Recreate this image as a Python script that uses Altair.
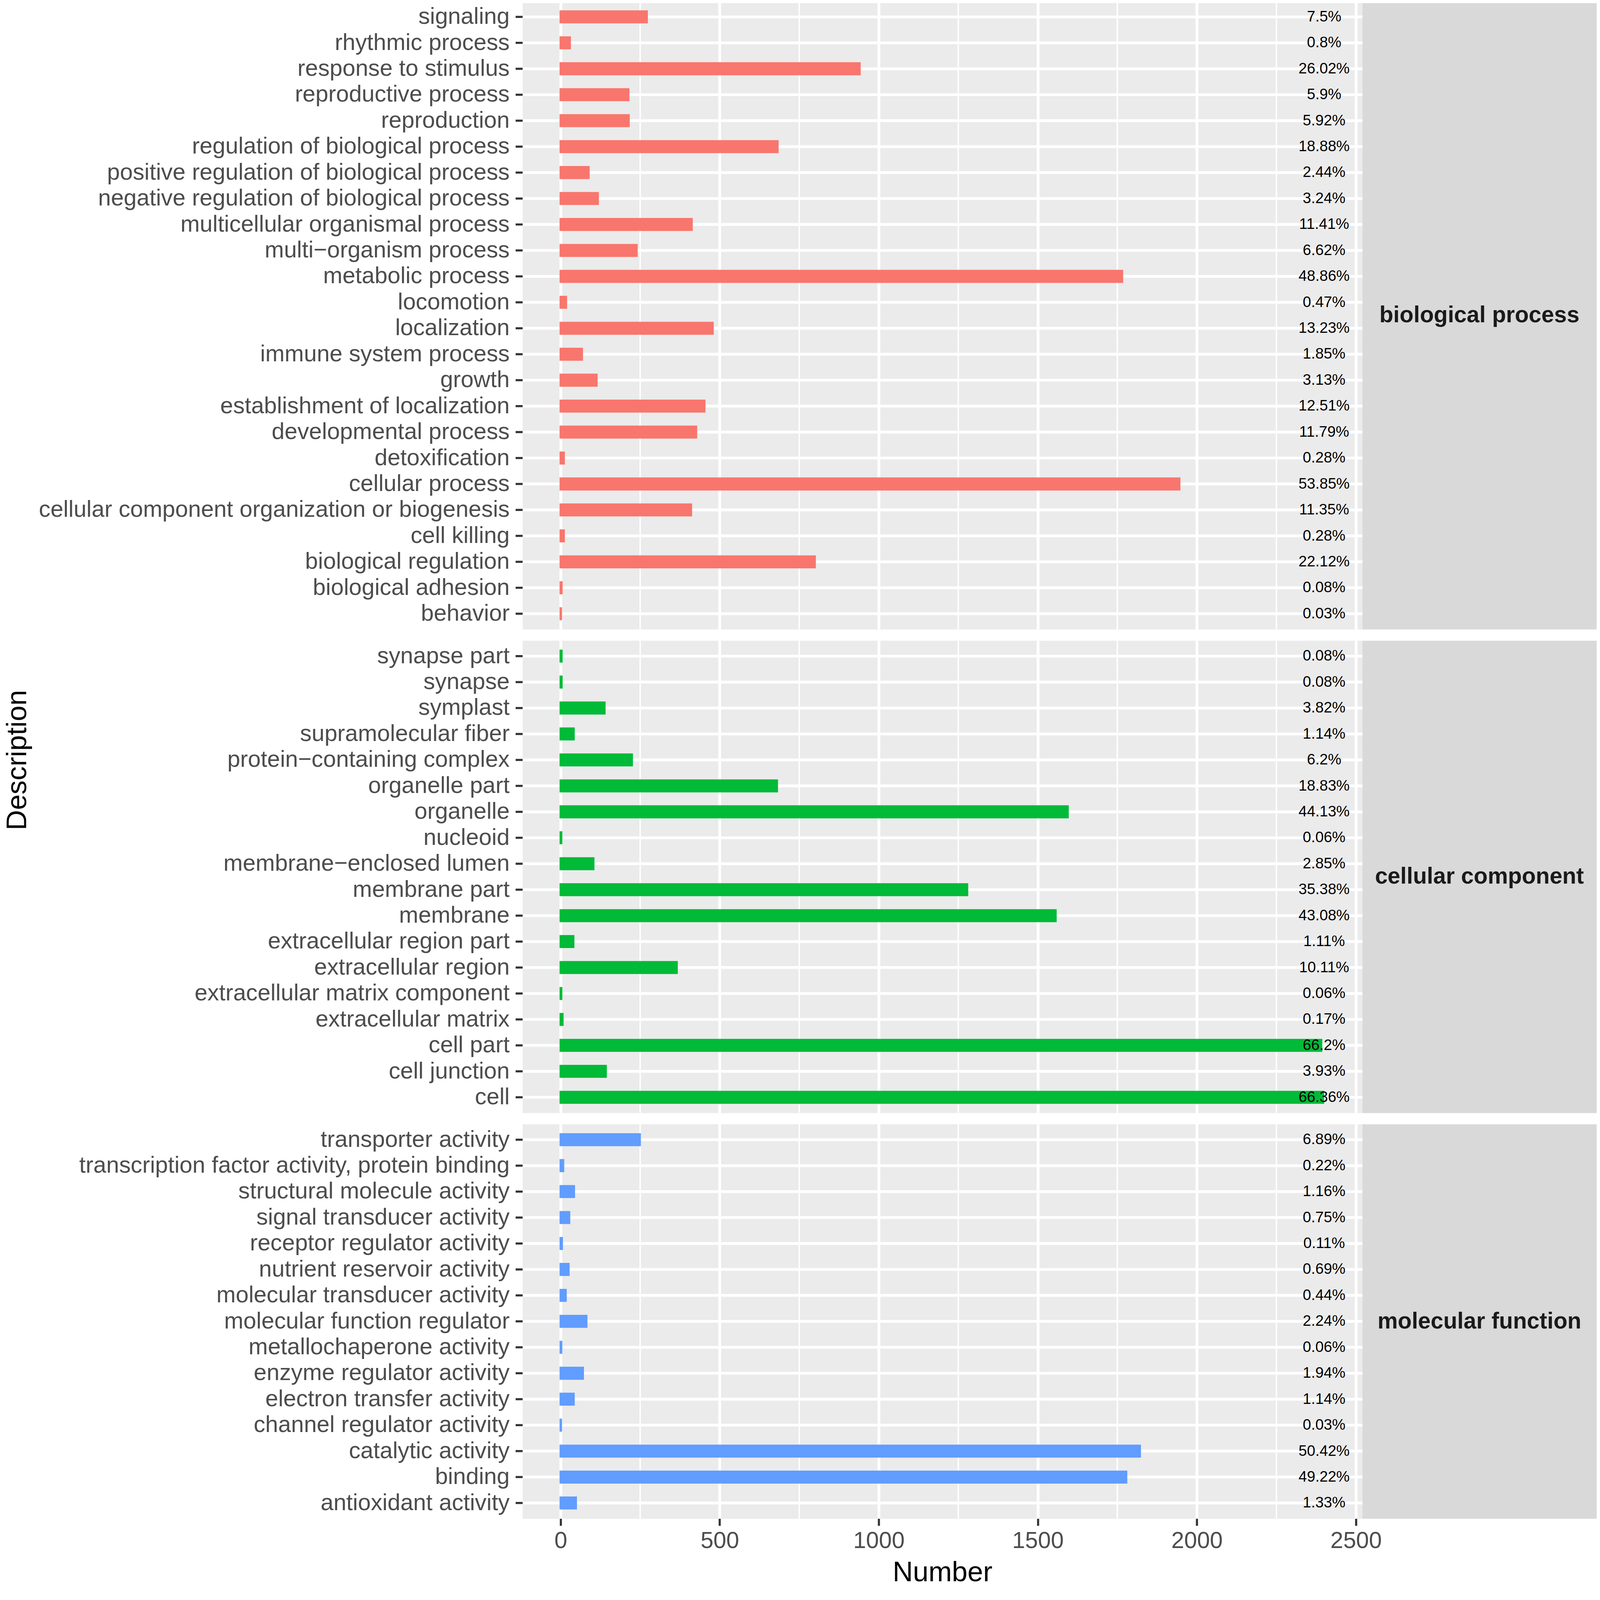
import altair as alt
import pandas as pd

# ---------------- data ----------------
GROUPS = ["biological process", "cellular component", "molecular function"]
COLORS = ["#F8766D", "#00BA38", "#619CFF"]

BP_TERMS = [
    "signaling", "rhythmic process", "response to stimulus", "reproductive process",
    "reproduction", "regulation of biological process",
    "positive regulation of biological process", "negative regulation of biological process",
    "multicellular organismal process", "multi\u2212organism process", "metabolic process",
    "locomotion", "localization", "immune system process", "growth",
    "establishment of localization", "developmental process", "detoxification",
    "cellular process", "cellular component organization or biogenesis", "cell killing",
    "biological regulation", "biological adhesion", "behavior",
]
BP_COUNTS = [271, 29, 940, 213, 214, 682, 88, 117, 412, 239, 1765, 17, 478, 67, 113,
             452, 426, 10, 1945, 410, 10, 799, 3, 1]
BP_PCT = ["7.5%", "0.8%", "26.02%", "5.9%", "5.92%", "18.88%", "2.44%", "3.24%",
          "11.41%", "6.62%", "48.86%", "0.47%", "13.23%", "1.85%", "3.13%", "12.51%",
          "11.79%", "0.28%", "53.85%", "11.35%", "0.28%", "22.12%", "0.08%", "0.03%"]

CC_TERMS = [
    "synapse part", "synapse", "symplast", "supramolecular fiber",
    "protein\u2212containing complex", "organelle part", "organelle", "nucleoid",
    "membrane\u2212enclosed lumen", "membrane part", "membrane", "extracellular region part",
    "extracellular region", "extracellular matrix component", "extracellular matrix",
    "cell part", "cell junction", "cell",
]
CC_COUNTS = [3, 3, 138, 41, 224, 680, 1594, 2, 103, 1278, 1556, 40, 365, 2, 6,
             2391, 142, 2397]
CC_PCT = ["0.08%", "0.08%", "3.82%", "1.14%", "6.2%", "18.83%", "44.13%", "0.06%",
          "2.85%", "35.38%", "43.08%", "1.11%", "10.11%", "0.06%", "0.17%", "66.2%",
          "3.93%", "66.36%"]

MF_TERMS = [
    "transporter activity", "transcription factor activity, protein binding",
    "structural molecule activity", "signal transducer activity",
    "receptor regulator activity", "nutrient reservoir activity",
    "molecular transducer activity", "molecular function regulator",
    "metallochaperone activity", "enzyme regulator activity", "electron transfer activity",
    "channel regulator activity", "catalytic activity", "binding", "antioxidant activity",
]
MF_COUNTS = [249, 8, 42, 27, 4, 25, 16, 81, 2, 70, 41, 1, 1821, 1778, 48]
MF_PCT = ["6.89%", "0.22%", "1.16%", "0.75%", "0.11%", "0.69%", "0.44%", "2.24%",
          "0.06%", "1.94%", "1.14%", "0.03%", "50.42%", "49.22%", "1.33%"]

X_TICKS = [0, 500, 1000, 1500, 2000, 2500]
X_MINOR = [250, 750, 1250, 1750, 2250]
X_DOMAIN = [-120, 2520]
LABEL_X = 2400

# ---------------- layout / style ----------------
FONT = "Liberation Sans"
STEP = 74.0
W_MAIN = 2395
W_STRIP = 668
GAP = 32
PANEL_BG = "#EBEBEB"
STRIP_BG = "#D9D9D9"
LABEL_SIZE = 66
TOP_PAD = -255     # cancels the empty band the layout leaves above the first row
BOTTOM_PAD = 60


def main_panel(terms, counts, pcts, color, bottom=False, ytitle=False, title_y=0):
    df = pd.DataFrame({"Description": terms, "Number": counts, "pct": pcts})
    h = round(STEP * (len(terms) + 0.2))

    ykw = dict(
        title=None, domain=False, bandPosition=0.5,
        labelFont=FONT, labelFontSize=LABEL_SIZE, labelColor="#4D4D4D", labelLimit=3000,
        labelPadding=17, tickSize=20, tickWidth=6, tickColor="#333333",
        grid=True, gridColor="white", gridWidth=8,
    )
    if ytitle:
        ykw.update(
            title="Description", titleFont=FONT, titleFontSize=80, titleColor="black",
            titleFontWeight="normal", titleAngle=270, titleX=-1440, titleY=title_y,
            titleAlign="center", titleBaseline="middle",
        )
    yaxis = alt.Axis(**ykw)
    yscale = alt.Scale(domain=terms, paddingInner=0.58, paddingOuter=0.39)

    if bottom:
        xaxis = alt.Axis(
            values=X_TICKS, domain=False, grid=True, gridColor="white", gridWidth=8,
            labelFont=FONT, labelFontSize=LABEL_SIZE, labelColor="#4D4D4D", labelPadding=12,
            tickSize=20, tickWidth=6, tickColor="#333333", format="d",
            title="Number", titleFont=FONT, titleFontSize=80, titleColor="black",
            titleFontWeight="normal", titlePadding=18,
        )
    else:
        xaxis = alt.Axis(
            values=X_TICKS, domain=False, grid=True, gridColor="white", gridWidth=8,
            labels=False, ticks=False, title=None,
        )
    xscale = alt.Scale(domain=X_DOMAIN, nice=False, zero=False)

    minor = alt.Chart(pd.DataFrame({"v": X_MINOR})).mark_rule(
        color="white", strokeWidth=4
    ).encode(x=alt.X("v:Q", scale=xscale, axis=xaxis))

    base = alt.Chart(df)
    bars = base.mark_bar(color=color, stroke=color, strokeWidth=6).encode(
        x=alt.X("Number:Q", scale=xscale, axis=xaxis),
        x2=alt.datum(0),
        y=alt.Y("Description:N", scale=yscale, axis=yaxis),
    )
    texts = base.mark_text(font=FONT, fontSize=43, color="black").encode(
        x=alt.datum(LABEL_X),
        y=alt.Y("Description:N", scale=yscale, axis=yaxis),
        text="pct:N",
    )
    return alt.layer(minor, bars, texts).properties(
        width=W_MAIN, height=h,
        view=alt.ViewBackground(fill=PANEL_BG, stroke="transparent"),
    )


def strip_panel(name, n):
    h = round(STEP * (n + 0.2))
    return alt.Chart(pd.DataFrame({"label": [name]})).mark_text(
        font=FONT, fontSize=65, fontWeight="bold", color="#1A1A1A",
        align="center", baseline="middle",
    ).encode(
        x=alt.X("label:N", axis=None),
        y=alt.Y("label:N", axis=None),
        text="label:N",
    ).properties(
        width=W_STRIP, height=h,
        view=alt.ViewBackground(fill=STRIP_BG, stroke="transparent"),
    )


h1 = round(STEP * (len(BP_TERMS) + 0.2))
h2 = round(STEP * (len(CC_TERMS) + 0.2))
h3 = round(STEP * (len(MF_TERMS) + 0.2))
total_h = h1 + h2 + h3 + 2 * GAP
title_y = total_h / 2 - (h1 + GAP)

m1 = main_panel(BP_TERMS, BP_COUNTS, BP_PCT, COLORS[0])
m2 = main_panel(CC_TERMS, CC_COUNTS, CC_PCT, COLORS[1], ytitle=True, title_y=title_y)
m3 = main_panel(MF_TERMS, MF_COUNTS, MF_PCT, COLORS[2], bottom=True)
s1 = strip_panel(GROUPS[0], len(BP_TERMS))
s2 = strip_panel(GROUPS[1], len(CC_TERMS))
s3 = strip_panel(GROUPS[2], len(MF_TERMS))

chart = alt.concat(
    m1, s1, m2, s2, m3, s3, columns=2,
    spacing=alt.RowColnumber(row=GAP, column=0),
).properties(
    align="each",
    bounds="flush",
    padding={"left": 0, "top": TOP_PAD, "right": 0, "bottom": BOTTOM_PAD},
    background="white",
).configure(font=FONT)

chart.save("out.html", embed_options={"renderer": "svg", "actions": False})
